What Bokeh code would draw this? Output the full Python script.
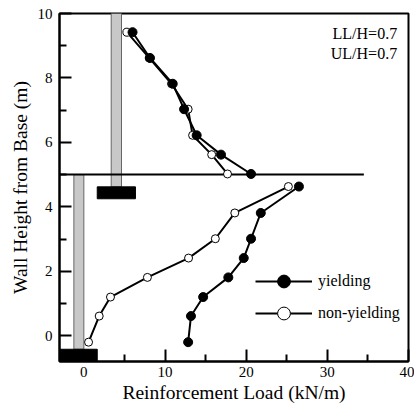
from bokeh.plotting import figure
from bokeh.models import (ColumnDataSource, FixedTicker, Legend, LegendItem, Label, Range1d)
from bokeh.embed import file_html
from bokeh.resources import INLINE

# ---- data ----
# upper wall section
y_upper = [9.42, 8.62, 7.82, 7.03, 6.22, 5.62, 5.02]
x_yield_upper = [6.0, 8.15, 10.95, 12.35, 13.9, 16.9, 20.6]
x_nonyield_upper = [5.3, 8.05, 10.8, 12.85, 13.4, 15.75, 17.7]
# lower wall section
y_lower = [-0.2, 0.61, 1.2, 1.81, 2.41, 3.01, 3.81, 4.63]
x_yield_lower = [12.85, 13.2, 14.7, 17.8, 19.7, 20.6, 21.8, 26.5]
x_nonyield_lower = [0.58, 1.89, 3.28, 7.83, 12.9, 16.2, 18.6, 25.2]

# wall / footing geometry
walls_left = [3.37, -1.23]
walls_right = [4.64, 0.0]
walls_bottom = [4.62, -0.42]
walls_top = [10.0, 5.0]
foot_left = [1.65, -3.0]
foot_right = [6.36, 1.65]
foot_bottom = [4.25, -0.8]
foot_top = [4.62, -0.42]
tier_line_x = [-3.0, 34.5]
tier_line_y = [5.0, 5.0]

x_major = [0, 10, 20, 30, 40]
x_minor = [5, 15, 25, 35]
y_major = [0, 2, 4, 6, 8, 10]
y_minor = [1, 3, 5, 7, 9]

FONT = "Liberation Serif"

p = figure(width=414, height=406, output_backend="svg", toolbar_location=None,
           x_range=Range1d(-3, 40), y_range=Range1d(-0.8, 10),
           min_border_left=59, min_border_right=6, min_border_top=13, min_border_bottom=45)
p.grid.visible = False
p.background_fill_color = "white"
p.border_fill_color = "white"
p.outline_line_color = "black"
p.outline_line_width = 2

# structures
p.quad(left=walls_left, right=walls_right, bottom=walls_bottom, top=walls_top,
       fill_color="#c8c8c8", line_color="#666666", line_width=1)
p.quad(left=foot_left, right=foot_right, bottom=foot_bottom, top=foot_top,
       fill_color="black", line_color="black")
p.line(tier_line_x, tier_line_y, line_color="black", line_width=2)

# series
for xs, ys in [(x_nonyield_upper, y_upper), (x_nonyield_lower, y_lower)]:
    p.line(xs, ys, line_color="black", line_width=2)
    p.scatter(xs, ys, size=8, fill_color="white", line_color="black", line_width=1)
for xs, ys in [(x_yield_upper, y_upper), (x_yield_lower, y_lower)]:
    p.line(xs, ys, line_color="black", line_width=2)
    p.scatter(xs, ys, size=9, fill_color="black", line_color="black")

# legend proxies (hidden renderers, used only for legend glyphs)
proxy = ColumnDataSource(data=dict(x=x_yield_upper[:1], y=y_upper[:1]))
lg_line = p.line("x", "y", source=proxy, line_color="black", line_width=2, visible=False)
lg_yield = p.scatter("x", "y", source=proxy, size=14, fill_color="black",
                     line_color="black", visible=False)
lg_non = p.scatter("x", "y", source=proxy, size=14, fill_color="white",
                   line_color="black", line_width=1, visible=False)

legend = Legend(items=[LegendItem(label="yielding", renderers=[lg_line, lg_yield]),
                       LegendItem(label="non-yielding", renderers=[lg_line, lg_non])],
                location=(196, 32), padding=0, margin=0, spacing=-12,
                glyph_width=57, glyph_height=32, label_height=20, label_standoff=6,
                label_text_font=FONT, label_text_font_size="16px", label_text_color="black",
                border_line_color=None, background_fill_alpha=0,
                inactive_fill_alpha=0, click_policy="none")
p.add_layout(legend, "center")

for i, t in enumerate(["LL/H=0.7", "UL/H=0.7"]):
    p.add_layout(Label(x=38.6, y=9.38 - 0.62 * i, text=t, text_align="right",
                       text_baseline="middle", text_font=FONT, text_font_size="16px",
                       text_color="black"))

# axes
p.xaxis.ticker = FixedTicker(ticks=x_major, minor_ticks=x_minor)
p.yaxis.ticker = FixedTicker(ticks=y_major, minor_ticks=y_minor)
for ax in (p.xaxis, p.yaxis):
    ax.major_tick_in = 12
    ax.major_tick_out = 0
    ax.minor_tick_in = 7
    ax.minor_tick_out = 0
    ax.major_tick_line_width = 2
    ax.minor_tick_line_width = 2
    ax.axis_line_width = 2
    ax.major_label_text_font = FONT
    ax.major_label_text_font_size = "15px"
    ax.major_label_text_color = "black"
    ax.axis_label_text_font = FONT
    ax.axis_label_text_font_size = "19.5px"
    ax.axis_label_text_font_style = "normal"
    ax.axis_label_text_color = "black"
p.xaxis.axis_label = "Reinforcement Load (kN/m)"
p.yaxis.axis_label = "Wall Height from Base (m)"
p.xaxis.major_label_standoff = 5
p.yaxis.major_label_standoff = 7
p.xaxis.axis_label_standoff = 2
p.yaxis.axis_label_standoff = 4

open("out.html", "w").write(file_html(p, INLINE))
